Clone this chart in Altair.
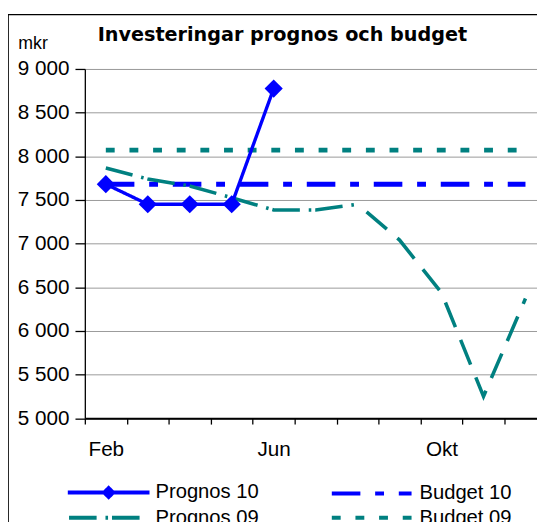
import altair as alt
import pandas as pd

# ---- data ----
months = ["Feb", "Mar", "Apr", "Maj", "Jun", "Jul", "Aug", "Sep", "Okt", "Nov", "Dec"]
prognos_10 = [7680, 7450, 7450, 7450, 8775]                      # Feb..Jun
prognos_09 = [7865, 7740, 7660, 7525, 7385, 7385, 7450, 7040, 6435, 5250, 6370]  # Feb..Dec
budget_10 = 7680
budget_09 = 8070
y_ticks = [5000, 5500, 6000, 6500, 7000, 7500, 8000, 8500, 9000]

# legend order (column-major: left column Prognos, right column Budget)
series = ["Prognos 10", "Prognos 09", "Budget 10", "Budget 09"]
colors = ["#0000FF", "#008080", "#0000FF", "#008080"]
dashes = [[1, 0], [28, 9, 2.6, 4], [29, 15, 9, 15], [9, 15]]
# legend sample paths (unit = 10.5 px, symbol box starts at x=-1)
legend_paths = [
    "M-1,0L6.9,0M2.52,0L2.95,-0.43L3.38,0L2.95,0.43ZM2.8,0L2.95,-0.15L3.1,0L2.95,0.15Z",
    "M-0.88,0L6.08,0",
    "M-1,0L6.71,0",
    "M-1,0L6.71,0",
]

FONT = "Liberation Sans"
n = len(months)
split = months.index("Aug")

df_p10 = pd.DataFrame({"idx": list(range(len(prognos_10))), "value": prognos_10, "serie": "Prognos 10"})
df_p09a = pd.DataFrame({"idx": list(range(split + 1)), "value": prognos_09[: split + 1], "serie": "Prognos 09"})
df_p09b = pd.DataFrame({"idx": list(range(split, n)), "value": prognos_09[split:], "serie": "Prognos 09"})
df_b10 = pd.DataFrame({"idx": [0, n - 1], "value": [budget_10, budget_10], "serie": "Budget 10"})
df_b09 = pd.DataFrame({"idx": [0, n - 1], "value": [budget_09, budget_09], "serie": "Budget 09"})
df_leg = pd.DataFrame({"idx": [0] * 4, "value": [budget_09] * 4, "serie": series})

PLOT_W = 459
PLOT_H = 354.5
cat_w = 42.6
x_max = -0.5 + PLOT_W / cat_w

month_js = "[" + ",".join("'" + m + "'" for m in months) + "]"
x_scale = alt.Scale(domain=[-0.5, x_max], nice=False, zero=False)
x_axis = alt.Axis(
    title="",
    values=[i - 0.5 for i in range(n)],
    labelExpr="(datum.value + 0.5) % 4 == 0 ? " + month_js + "[datum.value + 0.5] : ''",
    labelOffset=cat_w / 2,
    labelFlush=False,
    labelOverlap=False,
    labelAlign="center",
    labelBaseline="alphabetic",
    labelPadding=31.5,
    labelFont=FONT,
    labelFontSize=21,
    labelColor="black",
    tickSize=6,
    tickColor="black",
    tickWidth=1.3,
    domainColor="black",
    domainWidth=2,
    grid=False,
)
y_scale = alt.Scale(domain=[5000, 9000], nice=False, zero=False)
y_axis = alt.Axis(
    title="mkr",
    titleAngle=0,
    titleAlign="left",
    titleBaseline="alphabetic",
    titleX=-68,
    titleY=-21,
    titleFont=FONT,
    titleFontSize=18,
    titleFontWeight="normal",
    titleColor="black",
    values=y_ticks,
    labelExpr="replace(format(datum.value, ','), ',', ' ')",
    labelFont=FONT,
    labelFontSize=21,
    labelColor="black",
    labelPadding=6,
    labelFlush=False,
    labelBaseline="middle",
    tickSize=10,
    tickColor="black",
    tickWidth=1.3,
    domainColor="black",
    domainWidth=1.3,
    grid=True,
    gridColor="#999999",
    gridWidth=1,
)

leg_def = alt.Legend(
    title=None,
    orient="none",
    legendX=-19.3,
    legendY=417,
    columns=2,
    columnPadding=66,
    rowPadding=0,
    padding=0,
    labelFont=FONT,
    labelFontSize=20.5,
    labelColor="black",
    labelOffset=66,
    symbolSize=441,
    symbolStrokeWidth=4,
    symbolFillColor="transparent",
)

color_enc = alt.Color("serie:N", scale=alt.Scale(domain=series, range=colors), legend=leg_def)
dash_enc = alt.StrokeDash("serie:N", scale=alt.Scale(domain=series, range=dashes), legend=leg_def)
shape_enc = alt.Shape("serie:N", scale=alt.Scale(domain=series, range=legend_paths), legend=leg_def)
X = alt.X("idx:Q", scale=x_scale, axis=x_axis)
Y = alt.Y("value:Q", scale=y_scale, axis=y_axis)

border_src = pd.DataFrame({"k": [0]})
border = alt.Chart(border_src).mark_rect(fill="transparent", stroke="black", strokeWidth=1.3).encode(
    x=alt.value(-77.8), x2=alt.value(530), y=alt.value(-55.2), y2=alt.value(530))

b09 = alt.Chart(df_b09).mark_line(strokeWidth=5, strokeCap="butt").encode(
    x=X, y=Y, color=color_enc, strokeDash=dash_enc)
b10 = alt.Chart(df_b10).mark_line(strokeWidth=5, strokeCap="butt").encode(
    x=X, y=Y, color=color_enc, strokeDash=dash_enc)
p09a = alt.Chart(df_p09a).mark_line(strokeWidth=3.6, strokeCap="butt").encode(
    x=X, y=Y, color=color_enc, strokeDash=dash_enc)
p09b = alt.Chart(df_p09b).mark_line(strokeWidth=3.6, strokeCap="butt", strokeDashOffset=29).encode(
    x=X, y=Y, color=color_enc, strokeDash=alt.value([27, 14]))
p10 = alt.Chart(df_p10).mark_line(strokeWidth=3.4).encode(
    x=X, y=Y, color=color_enc, strokeDash=dash_enc)
p10pts = alt.Chart(df_p10).mark_point(shape="diamond", filled=True, size=340, opacity=1).encode(
    x=X, y=Y, color=color_enc)
leg = alt.Chart(df_leg).transform_filter("false").mark_point().encode(
    x=X, y=Y, color=color_enc, shape=shape_enc)

chart = alt.layer(border, b09, b10, p09a, p09b, p10, p10pts, leg).properties(
    width=PLOT_W,
    height=PLOT_H,
    padding={"left": 78, "top": 58, "right": 0, "bottom": 101},
    autosize=alt.AutoSizeParams(type="none"),
    title=alt.TitleParams(
        text="Investeringar prognos och budget",
        anchor="start",
        frame="group",
        font="DejaVu Sans",
        fontSize=19.5,
        fontWeight="bold",
        color="black",
        baseline="alphabetic",
        offset=0,
        dx=13,
        dy=47,
    ),
).configure_view(stroke="transparent").configure(background="white")

chart.save("out.html", embed_options={"renderer": "svg", "actions": False})
